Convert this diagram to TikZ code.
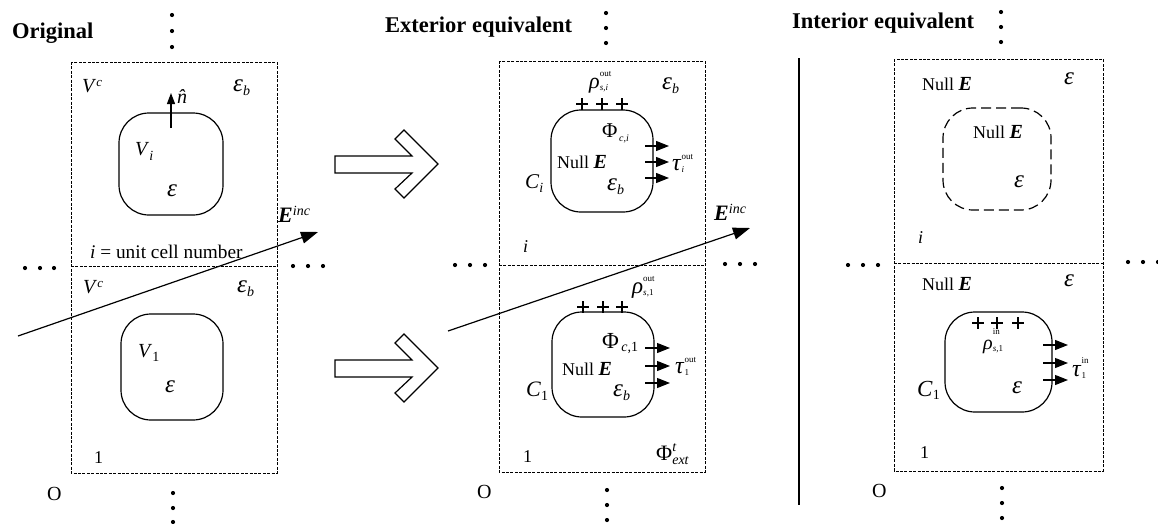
\documentclass[tikz,border=0pt]{standalone}
\usepackage{fontspec}
\setmainfont{Liberation Serif}
\usetikzlibrary{arrows.meta}
\newcommand\HiText[3]{\raisebox{#2pt}{\fontsize{#1}{#1}\selectfont #3}}
\newcommand\LoText[3]{\raisebox{-#2pt}{\fontsize{#1}{#1}\selectfont #3}}
\newcommand\StackSS[5]{{\fontsize{#1}{#1}\selectfont%
 \setbox0=\hbox{\raise#2pt\hbox{#4}}\setbox2=\hbox{\lower#3pt\hbox{#5}}%
 \ifdim\wd0>\wd2 \rlap{\box2}\box0\else\rlap{\box0}\box2\fi}}
\newcommand\Sz[2]{{\fontsize{#1}{#1}\selectfont #2}}
\newcommand\Eps{\Sz{25}{\textit{ε}}}
\newcommand\NullE{Null \Sz{20}{\textbf{\textit{E}}}}
\tikzset{
  cell/.style={draw, line width=0.9pt, dash pattern=on 3pt off 1.4pt},
  incl/.style={draw, line width=1.2pt, rounded corners=30pt, inner sep=0pt},
  incldash/.style={incl, dash pattern=on 10pt off 5pt},
  lbl/.style={inner sep=0pt, anchor=base west, font=\fontsize{18}{20}\selectfont},
  head/.style={inner sep=0pt, anchor=base west, font=\fontsize{22.5}{24}\selectfont\bfseries},
  field/.style={-{Triangle[length=17pt,width=12pt]}, line width=1.2pt},
  normal/.style={-{Triangle[length=11pt,width=8pt]}, line width=1.2pt},
  tau/.style={-{Triangle[length=13pt,width=10pt]}, line width=1.1pt},
  hollow/.style={draw, line width=1.2pt, fill=white, line join=miter},
  pluss/.style={line width=1.2pt},
  sep/.style={line width=1.4pt},
}
\begin{document}
\begin{tikzpicture}[x=1pt,y=-1pt]
\useasboundingbox (0,0) rectangle (1158,523);

% ---------- dots ----------
\foreach \x/\y in {172/15,172/31,172/47, 173/493,173/508,173/522,
  606/13,606/28,606/43, 607/490,607/505,607/520,
  1001/12,1001/27,1001/42, 1002/488,1002/503,1002/518,
  25/268,40/268,54/268, 293/266,308/266,323/266,
  455/265,470/265,485/265, 725/264,740/264,755/264,
  848/265,863/265,878/265, 1128/262,1143/262,1158/262}
  \fill (\x,\y) circle (2.1pt);

% ---------- headers ----------
\node[head] (hOrig) at (12,38) {Original};
\node[head] (hExt) at (385,32) {Exterior equivalent};
\node[head] (hInt) at (792,28) {Interior equivalent};

% ---------- separator ----------
\draw[sep] (799,58) -- (799,505);

% ---------- unit cells ----------
\draw[cell] (71,62) rectangle (277,473);
\draw[cell] (71,266) -- (277,266);
\draw[cell] (499,61) rectangle (705,472);
\draw[cell] (499,265) -- (705,265);
\draw[cell] (894,59) rectangle (1103,471);
\draw[cell] (894,263) -- (1103,263);

% ---------- hollow arrows ----------
\foreach \dy in {0,204}{
  \begin{scope}[shift={(0,\dy)}]
  \draw[hollow] (335,156) -- (412,156) -- (395,139) -- (404,130) -- (438,164)
     -- (404,198) -- (395,189) -- (412,173) -- (335,173) -- cycle;
  \end{scope}}

% ================= Original =================
\node[incl, minimum width=104pt, minimum height=102pt] (incA) at (171,164) {};
\node[incl, minimum width=102pt, minimum height=106pt] (incB) at (172,367) {};
\coordinate (nS) at (171,128);
\coordinate (nT) at (171,93);
\draw[normal] (nS) -- (nT);
\node[lbl] (nhat) at (177,103) {\Sz{20}{\textit{n̂}}};
\node[lbl] (vcA) at (82,92) {\Sz{20}{\textit{V}}\HiText{13}{6}{\textit{c}}};
\node[lbl] (ebA) at (233,91) {\Eps\LoText{14}{4}{\textit{b}}};
\node[lbl] (viA) at (135,155) {\Sz{20}{\textit{V}}\LoText{14}{5}{\textit{i}}};
\node[lbl] (epA) at (167,196) {\Eps};
\node[lbl, font=\fontsize{19.3}{20}\selectfont] (cellno) at (90,258) {\textit{i} = unit cell number};
\node[lbl] (vcB) at (83,293) {\Sz{20}{\textit{V}}\HiText{13}{6}{\textit{c}}};
\node[lbl] (ebB) at (237,292) {\Eps\LoText{14}{4}{\textit{b}}};
\node[lbl] (v1B) at (138,357) {\Sz{20}{\textit{V}}\LoText{14}{4}{1}};
\node[lbl] (epB) at (165,392) {\Eps};
\node[lbl] (oneA) at (94,463) {1};
\node[lbl, font=\fontsize{20}{20}\selectfont] (oA) at (47,500) {O};
\coordinate (eAs) at (18,336);
\coordinate (eAt) at (318,232);
\draw[field] (eAs) -- (eAt);
\node[lbl] (eincA) at (278,222) {\Sz{22}{\textbf{\textit{E}}}\HiText{14}{7}{\textit{inc}}};

% ================= Exterior equivalent =================
\node[incl, minimum width=102pt, minimum height=102pt] (incC) at (602,161) {};
\node[incl, minimum width=102pt, minimum height=105pt] (incD) at (603,364.5) {};
\foreach \x in {582,602,622}
  \draw[pluss] (\x-6,104) -- (\x+6,104) (\x,98) -- (\x,110);
\foreach \x in {583,603,622}
  \draw[pluss] (\x-6,307) -- (\x+6,307) (\x,301) -- (\x,313);
\foreach \y [count=\k] in {146,162,178}{
  \coordinate (tCs\k) at (645,\y); \coordinate (tCt\k) at (669,\y);
  \draw[tau] (tCs\k) -- (tCt\k);}
\foreach \y [count=\k] in {348,366,383}{
  \coordinate (tDs\k) at (645,\y); \coordinate (tDt\k) at (670,\y);
  \draw[tau] (tDs\k) -- (tDt\k);}
\node[lbl] (rhoC) at (589,88) {\Sz{22}{\textit{ρ}}\StackSS{9}{12}{2}{out}{\textit{s,i}}};
\node[lbl] (ebC) at (662,89) {\Eps\LoText{14}{4}{\textit{b}}};
\node[lbl] (phiC) at (602,137) {\Sz{21}{Φ}\LoText{10}{4}{\,\textit{c,i}}};
\node[lbl] (nullC) at (557,168) {\NullE};
\node[lbl] (ciC) at (525,188) {\Sz{21}{\textit{C}}\LoText{14}{4}{\textit{i}}};
\node[lbl] (ebC2) at (607,190) {\Eps\LoText{14}{4}{\textit{b}}};
\node[lbl] (tauC) at (672,170) {\Sz{24}{\textit{τ}}\StackSS{9}{11}{2}{out}{\textit{i}}};
\node[lbl] (iC) at (523,252) {\textit{i}};
\coordinate (eBs) at (448,331);
\coordinate (eBt) at (750,228);
\draw[field] (eBs) -- (eBt);
\node[lbl] (eincB) at (714,220) {\Sz{22}{\textbf{\textit{E}}}\HiText{14}{7}{\textit{inc}}};
\node[lbl] (rhoD) at (632,293) {\Sz{23}{\textit{ρ}}\StackSS{9}{12}{2}{out}{\textit{s,}1}};
\node[lbl] (phiD) at (602,348) {\Sz{23}{Φ}\LoText{14}{3}{\,\textit{c},1}};
\node[lbl] (nullD) at (562,375) {\NullE};
\node[lbl] (c1D) at (526,396) {\Sz{22}{\textit{C}}\LoText{14}{4}{1}};
\node[lbl] (ebD) at (613,396) {\Eps\LoText{14}{4}{\textit{b}}};
\node[lbl] (tauD) at (675,373) {\Sz{24}{\textit{τ}}\StackSS{9}{11}{2}{out}{1}};
\node[lbl] (oneD) at (523,462) {1};
\node[lbl] (phiext) at (656,460) {\Sz{22}{Φ}\StackSS{14}{9}{4}{\textit{t}}{\textit{ext}}};
\node[lbl, font=\fontsize{20}{20}\selectfont] (oD) at (477,498) {O};

% ================= Interior equivalent =================
\node[incldash, minimum width=108pt, minimum height=102pt] (incE) at (997,159) {};
\node[incl, minimum width=107pt, minimum height=100pt] (incF) at (998.5,362) {};
\foreach \x in {978,997,1018}
  \draw[pluss] (\x-6,323) -- (\x+6,323) (\x,317) -- (\x,329);
\foreach \y [count=\k] in {345,363,380}{
  \coordinate (tFs\k) at (1043,\y); \coordinate (tFt\k) at (1068,\y);
  \draw[tau] (tFs\k) -- (tFt\k);}
\node[lbl] (nullE1) at (922,90) {\NullE};
\node[lbl] (epE1) at (1064,84) {\Eps};
\node[lbl] (nullE2) at (973,138) {\NullE};
\node[lbl] (epE2) at (1014,187) {\Eps};
\node[lbl] (iE) at (918,243) {\textit{i}};
\node[lbl] (nullF) at (922,290) {\NullE};
\node[lbl] (epF1) at (1064,286) {\Eps};
\node[lbl] (rhoF) at (983,349) {\Sz{20}{\textit{ρ}}\StackSS{9}{15}{2}{in}{\textit{s,}1}};
\node[lbl] (tauF) at (1072,376) {\Sz{24}{\textit{τ}}\StackSS{9}{13}{2}{in}{1}};
\node[lbl] (c1F) at (917,396) {\Sz{23}{\textit{C}}\LoText{14}{3}{1}};
\node[lbl] (epF2) at (1012,393) {\Eps};
\node[lbl] (oneF) at (920,458) {1};
\node[lbl, font=\fontsize{20}{20}\selectfont] (oF) at (872,497) {O};
\end{tikzpicture}
\end{document}
